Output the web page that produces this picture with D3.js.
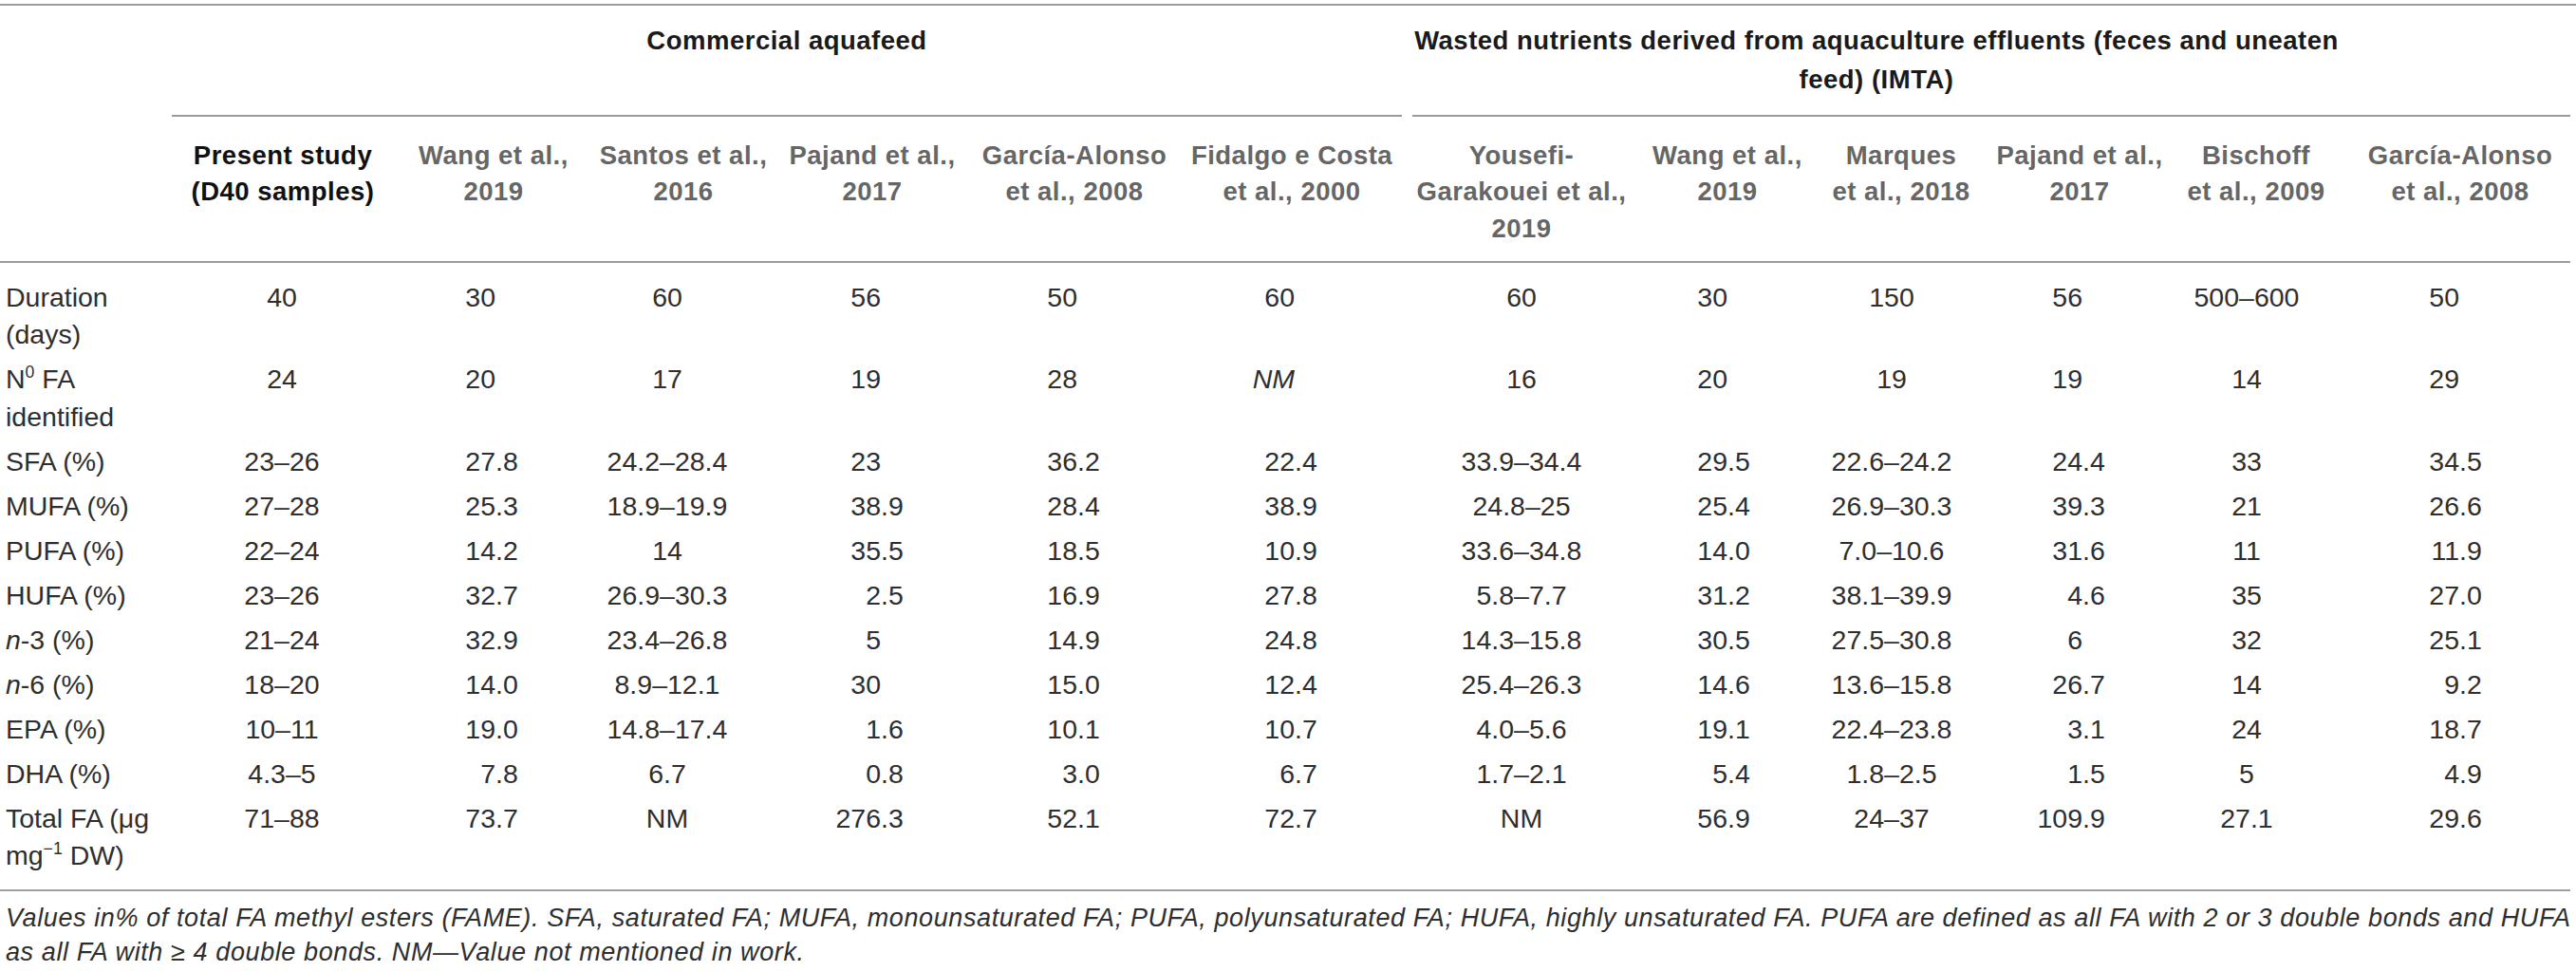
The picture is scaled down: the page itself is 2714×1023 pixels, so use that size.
<!DOCTYPE html>
<html>
<head>
<meta charset="utf-8">
<script src="https://cdn.jsdelivr.net/npm/d3@7"></script>
<style>
	html, body { margin: 0; padding: 0; background: #fff; }
	svg { display: block; }
	.body-text { font-family: 'Liberation Sans Narrow', 'Arial Narrow', 'Liberation Sans', sans-serif; }
	.head-text { font-family: 'Liberation Sans Narrow', 'Arial Narrow', 'Liberation Sans', sans-serif; font-weight: bold; letter-spacing: 0.5px; }
	.note { letter-spacing: 0.6px; }
</style>
</head>
<body>
<svg id="table"></svg>
<script>

// ---- table content ----

var groupNames = [
	'Commercial aquafeed'
	, 'Wasted nutrients derived from aquaculture effluents (feces and uneaten|feed) (IMTA)'
]
// first and last study column covered by each group
var groupSpans = [[0, 5], [6, 11]]

var studyNames = [
	'Present study|(D40 samples)'
	, 'Wang et al.,|2019'
	, 'Santos et al.,|2016'
	, 'Pajand et al.,|2017'
	, 'García-Alonso|et al., 2008'
	, 'Fidalgo e Costa|et al., 2000'
	, 'Yousefi-|Garakouei et al.,|2019'
	, 'Wang et al.,|2019'
	, 'Marques|et al., 2018'
	, 'Pajand et al.,|2017'
	, 'Bischoff|et al., 2009'
	, 'García-Alonso|et al., 2008'
]

// "|" breaks a line, ^{..} is superscript, *{..} is italic
var rowLabels = [
	'Duration|(days)'
	, 'N^{0} FA|identified'
	, 'SFA (%)'
	, 'MUFA (%)'
	, 'PUFA (%)'
	, 'HUFA (%)'
	, '*{n}-3 (%)'
	, '*{n}-6 (%)'
	, 'EPA (%)'
	, 'DHA (%)'
	, 'Total FA (μg|mg^{−1} DW)'
]

var duration = ['40', '30', '60', '56', '50', '60', '60', '30', '150', '56', '500–600', '50']
var faIdentified = ['24', '20', '17', '19', '28', '*{NM}', '16', '20', '19', '19', '14', '29']
var sfa = ['23–26', '27.8', '24.2–28.4', '23', '36.2', '22.4', '33.9–34.4', '29.5', '22.6–24.2', '24.4', '33', '34.5']
var mufa = ['27–28', '25.3', '18.9–19.9', '38.9', '28.4', '38.9', '24.8–25', '25.4', '26.9–30.3', '39.3', '21', '26.6']
var pufa = ['22–24', '14.2', '14', '35.5', '18.5', '10.9', '33.6–34.8', '14.0', '7.0–10.6', '31.6', '11', '11.9']
var hufa = ['23–26', '32.7', '26.9–30.3', '2.5', '16.9', '27.8', '5.8–7.7', '31.2', '38.1–39.9', '4.6', '35', '27.0']
var n3 = ['21–24', '32.9', '23.4–26.8', '5', '14.9', '24.8', '14.3–15.8', '30.5', '27.5–30.8', '6', '32', '25.1']
var n6 = ['18–20', '14.0', '8.9–12.1', '30', '15.0', '12.4', '25.4–26.3', '14.6', '13.6–15.8', '26.7', '14', '9.2']
var epa = ['10–11', '19.0', '14.8–17.4', '1.6', '10.1', '10.7', '4.0–5.6', '19.1', '22.4–23.8', '3.1', '24', '18.7']
var dha = ['4.3–5', '7.8', '6.7', '0.8', '3.0', '6.7', '1.7–2.1', '5.4', '1.8–2.5', '1.5', '5', '4.9']
var totalFA = ['71–88', '73.7', 'NM', '276.3', '52.1', '72.7', 'NM', '56.9', '24–37', '109.9', '27.1', '29.6']

var footnoteLines = [
	'Values in% of total FA methyl esters (FAME). SFA, saturated FA; MUFA, monounsaturated FA; PUFA, polyunsaturated FA; HUFA, highly unsaturated FA. PUFA are defined as all FA with 2 or 3 double bonds and HUFA'
	, 'as all FA with ≥ 4 double bonds. NM—Value not mentioned in work.'
]

var rows = [duration, faIdentified, sfa, mufa, pufa, hufa, n3, n6, epa, dha, totalFA]


// ---- layout ----

var width = 2714
	, height = 1023
	, labelX = 6
	, ruleRight = 2708
	, bodySize = 28.5
	, headSize = 27.5
	, noteSize = 27

var svg = d3.select('#table')
	.attr('width', width)
	.attr('height', height)
	.attr('viewBox', '0 0 ' + width + ' ' + height)

var studyIdx = d3.range(studyNames.length)

// header centres of the study columns
var headX = d3.scaleOrdinal()
	.domain(studyIdx)
	.range([298, 520, 720, 919, 1132, 1361, 1603, 1820, 2003, 2191, 2377, 2592])

// value anchor per column: centre for ranges, decimal point otherwise
var valueX = d3.scaleOrdinal()
	.domain(studyIdx)
	.range([297, 522, 703, 928, 1135, 1364, 1603, 1820, 1993, 2194, 2367, 2591])

var valueAlign = d3.scaleOrdinal()
	.domain(studyIdx)
	.range(['center', 'decimal', 'center', 'decimal', 'decimal', 'decimal', 'center', 'decimal', 'center', 'decimal', 'center', 'decimal'])

// vertical positions: one slot per row, extra lines add a line step
var firstRowY = 313
	, rowStep = 47
	, lineStep = 39.5

var rowLineCount = rowLabels.map(function(l) { return l.split('|').length })
var rowOffsets = [0]
rowLineCount.forEach(function(n, i) {
	rowOffsets.push(rowOffsets[i] + rowStep + (n - 1) * lineStep)
})
var rowY = d3.scaleLinear()
	.domain([0, 1])
	.range([firstRowY, firstRowY + 1])

function yOfRow(i) {
	return rowY(rowOffsets[i])
}

/**
 * Write a marked-up string into a text node as tspans
 *
 * @param {object} sel d3 text selection
 * @param {string} str text with ^{..} and *{..} markup
 */
function richText(sel, str, size) {
	var re = /(\^\{[^}]*\}|\*\{[^}]*\})/
		, parts = str.split(re).filter(function(p) { return p.length })
		, afterSup = false

	parts.forEach(function(p) {
		var t = sel.append('tspan')
		if (p.indexOf('^{') === 0) {
			t.text(p.slice(2, -1))
				.attr('font-size', size * 0.62)
				.attr('dy', -size * 0.42)
			afterSup = true
		} else {
			if (p.indexOf('*{') === 0) {
				t.text(p.slice(2, -1)).attr('font-style', 'italic')
			} else {
				t.text(p)
			}
			if (afterSup) {
				t.attr('dy', size * 0.42)
				afterSup = false
			}
		}
	})
}

function hRule(y, x1, x2, w, color) {
	svg.append('line')
		.attr('x1', x1).attr('x2', x2)
		.attr('y1', y).attr('y2', y)
		.attr('stroke', color || '#7a7a7a')
		.attr('stroke-width', w || 1.6)
}

// ---- rules ----
hRule(5, 0, width)
groupSpans.forEach(function(span, g) {
	var x1 = g === 0 ? 181 : 1488
		, x2 = g === 0 ? 1477 : ruleRight
	hRule(122, x1, x2)
})
hRule(276, 0, ruleRight)
hRule(938, 0, ruleRight, 2, '#a0a0a0')

// ---- group headers ----
var groupX = [829, 1977]

svg.selectAll('.group').data(groupNames)
  .enter()
	.append('text')
	.attr('class', 'group head-text')
	.attr('font-size', headSize)
	.attr('fill', '#1a1a1a')
	.attr('text-anchor', 'middle')
	.each(function(d, g) {
		var sel = d3.select(this)
		d.split('|').forEach(function(line, k) {
			sel.append('tspan')
				.attr('x', groupX[g])
				.attr('y', 42 + k * 41)
				.attr('dy', '0.35em')
				.text(line)
		})
	})

// ---- study headers ----
svg.selectAll('.study').data(studyNames)
  .enter()
	.append('text')
	.attr('class', 'study head-text')
	.attr('font-size', headSize)
	.attr('fill', function(d, i) { return i === 0 ? '#111' : '#666' })
	.attr('text-anchor', 'middle')
	.each(function(d, i) {
		var sel = d3.select(this)
		d.split('|').forEach(function(line, k) {
			sel.append('tspan')
				.attr('x', headX(i))
				.attr('y', 163 + k * 38.5)
				.attr('dy', '0.35em')
				.text(line)
		})
	})

// ---- row labels ----
svg.selectAll('.rowlabel').data(rowLabels)
  .enter()
	.append('g')
	.attr('class', 'rowlabel')
	.each(function(d, i) {
		var g = d3.select(this)
		d.split('|').forEach(function(line, k) {
			var t = g.append('text')
				.attr('class', 'body-text')
				.attr('font-size', bodySize)
				.attr('fill', '#2e2e2e')
				.attr('x', labelX)
				.attr('y', yOfRow(i) + k * lineStep)
				.attr('dy', '0.35em')
			richText(t, line, bodySize)
		})
	})

// ---- cell values ----
var cells = []
rows.forEach(function(row, r) {
	row.forEach(function(v, c) {
		cells.push({ row: r, col: c, value: v })
	})
})

svg.selectAll('.cell').data(cells)
  .enter()
	.append('g')
	.attr('class', 'cell')
	.each(function(d) {
		var g = d3.select(this)
			, y = yOfRow(d.row)
			, x = valueX(d.col)
			, italic = d.value.indexOf('*{') === 0
			, raw = italic ? d.value.slice(2, -1) : d.value

		function put(str, anchor) {
			return g.append('text')
				.attr('class', 'body-text')
				.attr('font-size', bodySize)
				.attr('fill', '#2e2e2e')
				.attr('font-style', italic ? 'italic' : null)
				.attr('x', x)
				.attr('y', y)
				.attr('dy', '0.35em')
				.attr('text-anchor', anchor)
				.text(str)
		}

		if (valueAlign(d.col) === 'center') {
			put(raw, 'middle')
		} else {
			var dot = raw.indexOf('.')
			if (dot < 0) {
				put(raw, 'end')
			} else {
				put(raw.slice(0, dot), 'end')
				put(raw.slice(dot), 'start')
			}
		}
	})

// ---- footnote ----
svg.selectAll('.note').data(footnoteLines)
  .enter()
	.append('text')
	.attr('class', 'note body-text')
	.attr('font-size', noteSize)
	.attr('font-style', 'italic')
	.attr('fill', '#2e2e2e')
	.attr('x', labelX)
	.attr('y', function(d, i) { return 967 + i * 36 })
	.attr('dy', '0.35em')
	.text(function(d) { return d })

</script>
</body>
</html>
